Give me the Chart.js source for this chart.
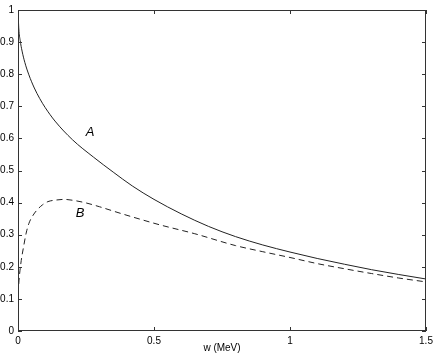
<!DOCTYPE html>
<html>
<head>
<meta charset="utf-8">
<script src="https://cdn.jsdelivr.net/npm/chart.js@4"></script>
<style>
  body { margin: 0; background: #fff; }
  #wrap { width: 437px; height: 354px; }
</style>
</head>
<body>
<div id="wrap"><canvas id="plot"></canvas></div>
<script>
// Curve A (solid)
const xA = [0, 0.003, 0.008, 0.015, 0.025, 0.04, 0.06, 0.08, 0.1, 0.136, 0.2, 0.277, 0.35, 0.42, 0.5, 0.6, 0.7, 0.8, 0.9, 1.0, 1.1, 1.2, 1.3, 1.4, 1.5];
const yA = [1.0, 0.941, 0.905, 0.872, 0.837, 0.798, 0.757, 0.724, 0.696, 0.654, 0.596, 0.542, 0.495, 0.452, 0.41, 0.365, 0.326, 0.294, 0.268, 0.246, 0.226, 0.208, 0.191, 0.176, 0.162];

// Curve B (dashed)
const xB = [0, 0.005, 0.012, 0.02, 0.03, 0.04, 0.055, 0.07, 0.09, 0.11, 0.14, 0.17, 0.21, 0.25, 0.3, 0.375, 0.45, 0.52, 0.65, 0.8, 0.9, 1.0, 1.1, 1.2, 1.3, 1.4, 1.5];
const yB = [0.115, 0.17, 0.22, 0.26, 0.305, 0.335, 0.36, 0.377, 0.393, 0.403, 0.408, 0.41, 0.406, 0.399, 0.387, 0.367, 0.348, 0.331, 0.303, 0.266, 0.247, 0.229, 0.21, 0.194, 0.179, 0.165, 0.153];

const xTicks = [0, 0.5, 1, 1.5];
const yTicks = [0, 0.1, 0.2, 0.3, 0.4, 0.5, 0.6, 0.7, 0.8, 0.9, 1];

// curve labels, in data units
const curveLabels = [
  { text: 'A', x: 0.265, y: 0.62 },
  { text: 'B', x: 0.228, y: 0.365 }
];

const axisColor = '#333';

// box around the plot with inward ticks on all four sides
const boxPlugin = {
  id: 'box',
  afterDatasetsDraw(chart) {
    const { ctx, chartArea: a, scales } = chart;
    ctx.save();
    ctx.strokeStyle = axisColor;
    ctx.lineWidth = 1;
    ctx.strokeRect(a.left + 0.5, a.top + 0.5, a.right - a.left - 1, a.bottom - a.top - 1);
    const len = 4;
    ctx.beginPath();
    xTicks.forEach(v => {
      const px = Math.round(scales.x.getPixelForValue(v)) + 0.5;
      ctx.moveTo(px, a.bottom); ctx.lineTo(px, a.bottom - len);
      ctx.moveTo(px, a.top); ctx.lineTo(px, a.top + len);
    });
    yTicks.forEach(v => {
      const py = Math.round(scales.y.getPixelForValue(v)) + 0.5;
      ctx.moveTo(a.left, py); ctx.lineTo(a.left + len, py);
      ctx.moveTo(a.right, py); ctx.lineTo(a.right - len, py);
    });
    ctx.stroke();

    ctx.fillStyle = '#000';
    ctx.font = 'italic 13px "Liberation Sans", Arial, sans-serif';
    ctx.textAlign = 'center';
    ctx.textBaseline = 'middle';
    curveLabels.forEach(l => {
      ctx.fillText(l.text, scales.x.getPixelForValue(l.x), scales.y.getPixelForValue(l.y));
    });
    ctx.restore();
  }
};

const font = { family: '"Liberation Sans", Arial, sans-serif', size: 10 };

new Chart(document.getElementById('plot'), {
  type: 'scatter',
  data: {
    datasets: [{
      label: 'A',
      data: xA.map((x, i) => ({ x: x, y: yA[i] })),
      showLine: true,
      borderColor: '#222',
      borderWidth: 1,
      pointRadius: 0,
      cubicInterpolationMode: 'monotone'
    }, {
      label: 'B',
      data: xB.map((x, i) => ({ x: x, y: yB[i] })),
      showLine: true,
      borderColor: '#222',
      borderWidth: 1,
      borderDash: [6, 4],
      pointRadius: 0,
      cubicInterpolationMode: 'monotone'
    }]
  },
  options: {
    responsive: true,
    maintainAspectRatio: false,
    animation: false,
    layout: { padding: { top: 10, right: 11, left: 0, bottom: 0 } },
    plugins: { legend: { display: false }, tooltip: { enabled: false } },
    scales: {
      x: {
        type: 'linear',
        min: 0, max: 1.5,
        grid: { display: false, drawTicks: false },
        border: { display: false },
        afterBuildTicks: s => { s.ticks = xTicks.map(v => ({ value: v })); },
        ticks: { font: font, color: '#000', padding: 4, maxRotation: 0, autoSkip: false, callback: v => String(v) },
        title: { display: true, text: 'w (MeV)', font: font, color: '#000', padding: 0 },
        afterFit: s => { s.height = 23; }
      },
      y: {
        min: 0, max: 1,
        grid: { display: false, drawTicks: false },
        border: { display: false },
        afterBuildTicks: s => { s.ticks = yTicks.map(v => ({ value: v })); },
        ticks: { font: font, color: '#000', padding: 4, autoSkip: false, callback: v => String(v) },
        afterFit: s => { s.width = 18; }
      }
    }
  },
  plugins: [boxPlugin]
});
</script>
</body>
</html>
